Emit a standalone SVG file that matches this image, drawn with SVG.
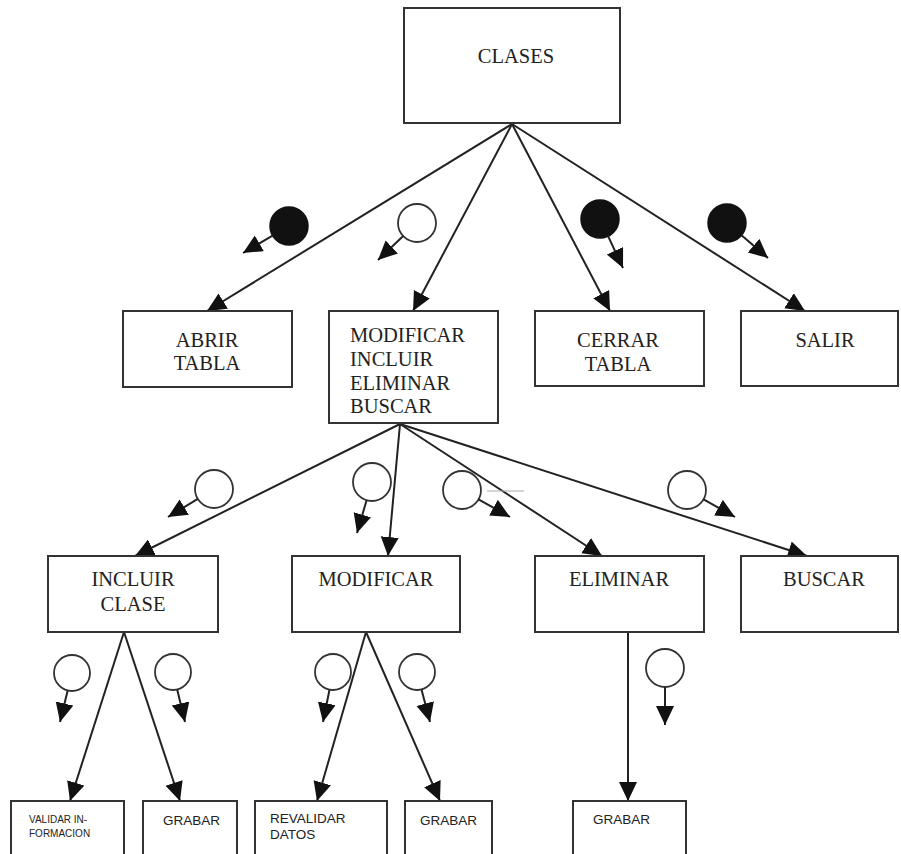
<svg xmlns="http://www.w3.org/2000/svg" width="901" height="854" viewBox="0 0 901 854">
<style>
.box{fill:#fff;stroke:#333;stroke-width:2}
.t{font-family:"Liberation Serif","Times New Roman",serif;font-size:20.5px;fill:#222}
.s{font-family:"Liberation Sans",Arial,sans-serif;font-size:13.5px;fill:#222}
.xs{font-family:"Liberation Sans",Arial,sans-serif;font-size:10px;fill:#222}
.edge{stroke:#222;stroke-width:2;fill:none;marker-end:url(#ah)}
.flag{stroke:#222;stroke-width:2;fill:none;marker-end:url(#ah)}
.oc{fill:#fff;stroke:#333;stroke-width:1.8}
.fc{fill:#111;stroke:#111;stroke-width:1.5}
</style>
<defs>
<marker id="ah" markerUnits="userSpaceOnUse" markerWidth="20" markerHeight="20" refX="19" refY="9" orient="auto">
<path d="M0,0 L19,9 L0,18 z" fill="#111"/>
</marker>
</defs>
<rect width="901" height="854" fill="#fff"/>
<g id="connectors">
<line class="edge" x1="512" y1="124" x2="207" y2="311"/>
<line class="edge" x1="512" y1="124" x2="413" y2="311"/>
<line class="edge" x1="512" y1="124" x2="610" y2="311"/>
<line class="edge" x1="512" y1="124" x2="805" y2="311"/>
<line class="edge" x1="400" y1="424" x2="135" y2="556"/>
<line class="edge" x1="400" y1="424" x2="388" y2="556"/>
<line class="edge" x1="400" y1="424" x2="602" y2="556"/>
<line class="edge" x1="400" y1="424" x2="807" y2="556"/>
<line class="edge" x1="124" y1="632" x2="70" y2="801"/>
<line class="edge" x1="124" y1="632" x2="180" y2="801"/>
<line class="edge" x1="366" y1="632" x2="317" y2="801"/>
<line class="edge" x1="366" y1="632" x2="440" y2="801"/>
<line class="edge" x1="628" y1="632" x2="628" y2="801"/>
</g>
<g id="flags">
<circle class="fc" cx="289" cy="226" r="19"/>
<line class="flag" x1="272.6" y1="235.6" x2="243" y2="253"/>
<circle class="oc" cx="417" cy="223" r="19"/>
<line class="flag" x1="403.2" y1="236.1" x2="378" y2="260"/>
<circle class="fc" cx="600" cy="219" r="19"/>
<line class="flag" x1="608.1" y1="236.2" x2="623" y2="268"/>
<circle class="fc" cx="727" cy="223" r="19"/>
<line class="flag" x1="741.5" y1="235.3" x2="768" y2="258"/>
<circle class="oc" cx="214" cy="489" r="19"/>
<line class="flag" x1="197.8" y1="498.9" x2="168" y2="517"/>
<circle class="oc" cx="372" cy="482" r="19"/>
<line class="flag" x1="366.6" y1="500.2" x2="357" y2="533"/>
<circle class="oc" cx="462" cy="490" r="19"/>
<line class="flag" x1="478.5" y1="499.3" x2="510" y2="517"/>
<line x1="487" y1="491" x2="524" y2="491" stroke="#aaa" stroke-width="1"/>
<circle class="oc" cx="687" cy="490" r="19"/>
<line class="flag" x1="703.5" y1="499.3" x2="735" y2="517"/>
<circle class="oc" cx="72" cy="673" r="18"/>
<line class="flag" x1="67.7" y1="690.5" x2="60" y2="722"/>
<circle class="oc" cx="173" cy="672" r="18"/>
<line class="flag" x1="177.2" y1="689.5" x2="185" y2="722"/>
<circle class="oc" cx="333" cy="672" r="18"/>
<line class="flag" x1="329.5" y1="689.7" x2="323" y2="722"/>
<circle class="oc" cx="417" cy="672" r="18"/>
<line class="flag" x1="421.5" y1="689.4" x2="430" y2="722"/>
<circle class="oc" cx="665" cy="668" r="19"/>
<line class="flag" x1="665" y1="687" x2="665" y2="725"/>
</g>
<g id="n-clases">
<rect class="box" x="404" y="8" width="216" height="115"/>
<text class="t" x="516" y="63" text-anchor="middle">CLASES</text>
</g>
<g id="n-abrir">
<rect class="box" x="123" y="311" width="169" height="76"/>
<text class="t" x="207" y="347" text-anchor="middle">ABRIR</text>
<text class="t" x="207" y="370" text-anchor="middle">TABLA</text>
</g>
<g id="n-modincl">
<rect class="box" x="329" y="311" width="169" height="112"/>
<text class="t" x="350" y="342">MODIFICAR</text>
<text class="t" x="350" y="366">INCLUIR</text>
<text class="t" x="350" y="390">ELIMINAR</text>
<text class="t" x="350" y="413">BUSCAR</text>
</g>
<g id="n-cerrar">
<rect class="box" x="535" y="311" width="169" height="75"/>
<text class="t" x="618" y="347" text-anchor="middle">CERRAR</text>
<text class="t" x="618" y="371" text-anchor="middle">TABLA</text>
</g>
<g id="n-salir">
<rect class="box" x="741" y="311" width="157" height="75"/>
<text class="t" x="825" y="347" text-anchor="middle">SALIR</text>
</g>
<g id="n-incluir">
<rect class="box" x="48" y="556" width="170" height="76"/>
<text class="t" x="133" y="586" text-anchor="middle">INCLUIR</text>
<text class="t" x="133" y="611" text-anchor="middle">CLASE</text>
</g>
<g id="n-modificar">
<rect class="box" x="292" y="556" width="168" height="76"/>
<text class="t" x="376" y="586" text-anchor="middle">MODIFICAR</text>
</g>
<g id="n-eliminar">
<rect class="box" x="535" y="556" width="169" height="76"/>
<text class="t" x="619" y="586" text-anchor="middle">ELIMINAR</text>
</g>
<g id="n-buscar">
<rect class="box" x="741" y="556" width="157" height="76"/>
<text class="t" x="824" y="586" text-anchor="middle">BUSCAR</text>
</g>
<g id="n-validar">
<rect class="box" x="11" y="801" width="113" height="60"/>
<text class="xs" x="29" y="823" fill="#667">VALIDAR IN-</text>
<text class="xs" x="29" y="837">FORMACION</text>
</g>
<g id="n-grabar1">
<rect class="box" x="143" y="801" width="94" height="60"/>
<text class="s" x="163" y="825">GRABAR</text>
</g>
<g id="n-revalidar">
<rect class="box" x="255" y="801" width="132" height="60"/>
<text class="s" x="270" y="823">REVALIDAR</text>
<text class="s" x="270" y="839">DATOS</text>
</g>
<g id="n-grabar2">
<rect class="box" x="405" y="801" width="87" height="60"/>
<text class="s" x="420" y="825">GRABAR</text>
</g>
<g id="n-grabar3">
<rect class="box" x="573" y="801" width="113" height="60"/>
<text class="s" x="593" y="824">GRABAR</text>
</g>
</svg>
